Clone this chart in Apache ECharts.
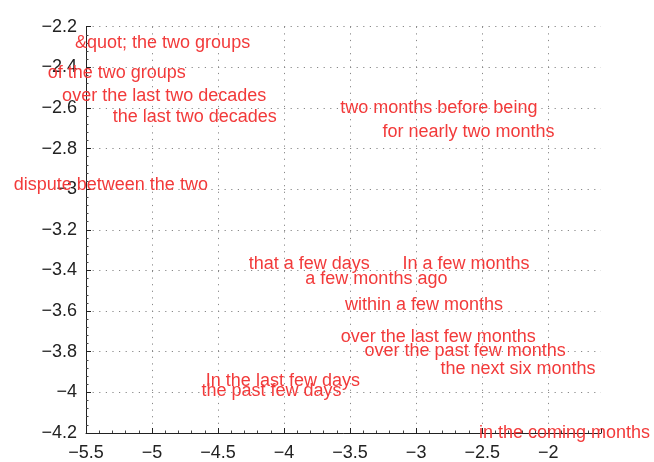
<!DOCTYPE html>
<html><head><meta charset="utf-8">
<script src="https://cdn.jsdelivr.net/npm/echarts@6/dist/echarts.min.js"></script>
<style>html,body{margin:0;padding:0;background:#fff}#c{width:654px;height:462px}</style>
</head><body><div id="c"></div>
<script>
const labels = ["&quot; the two groups","of the two groups","over the last two decades","the last two decades","dispute between the two","two months before being","for nearly two months","that a few days","a few months ago","In a few months","within a few months","over the last few months","over the past few months","the next six months","In the last few days","the past few days","in the coming months"];
const xValues = [-4.92,-5.267,-4.908,-4.676,-5.312,-2.828,-2.604,-3.809,-3.301,-2.623,-2.941,-2.833,-2.629,-2.229,-4.009,-4.095,-1.876];
const yValues = [-2.28,-2.43,-2.54,-2.646,-2.98,-2.602,-2.717,-3.370,-3.444,-3.366,-3.571,-3.730,-3.798,-3.883,-3.945,-3.995,-4.2];
const xTicks = {min:-5.5, max:-1.6, interval:0.5};
const yTicks = {min:-4.2, max:-2.2, interval:0.2};

const chart = echarts.init(document.getElementById('c'));
const axisCommon = {
  axisLine:{show:true,onZero:false,lineStyle:{color:'#222',width:1}},
  axisTick:{show:true,inside:true,length:5,lineStyle:{color:'#222'}},
  minorTick:{show:true,splitNumber:5,length:2.5,lineStyle:{color:'#444'}},
  splitLine:{show:true,showMaxLine:false,lineStyle:{color:'#888',type:[1.2,5.4],width:1}},
  axisLabel:{color:'#222',fontSize:18,fontFamily:'Liberation Sans, Arial, sans-serif'}
};
chart.setOption({
  animation:false,
  grid:{left:86,right:53,top:26.7,bottom:28.7,containLabel:false},
  xAxis:Object.assign({type:'value',min:xTicks.min,max:xTicks.max,interval:xTicks.interval}, axisCommon,{
    axisLabel:Object.assign({},axisCommon.axisLabel,{showMaxLabel:false,margin:11,
      formatter:v=>String(v).replace('-','\u2212')})
  }),
  yAxis:Object.assign({type:'value',min:yTicks.min,max:yTicks.max,interval:yTicks.interval}, axisCommon,{
    splitLine:{show:true,lineStyle:{color:'#888',type:[1.2,5.4],width:1}},
    axisLabel:Object.assign({},axisCommon.axisLabel,{margin:9,
      formatter:v=>(Math.round(v*10)/10).toString().replace('-','\u2212')})
  }),
  series:[{
    type:'scatter',
    symbolSize:1,
    itemStyle:{color:'rgba(0,0,0,0)'},
    data:labels.map((n,i)=>({name:n,value:[xValues[i],yValues[i]]})),
    label:{show:true,position:'inside',formatter:p=>p.name,color:'#f23a3a',fontSize:18,
      textBorderWidth:0,textBorderColor:'transparent',opacity:1,
      fontFamily:'Liberation Sans Narrow, Liberation Sans, sans-serif'},
    emphasis:{disabled:true},
    z:10
  }]
});
</script></body></html>
